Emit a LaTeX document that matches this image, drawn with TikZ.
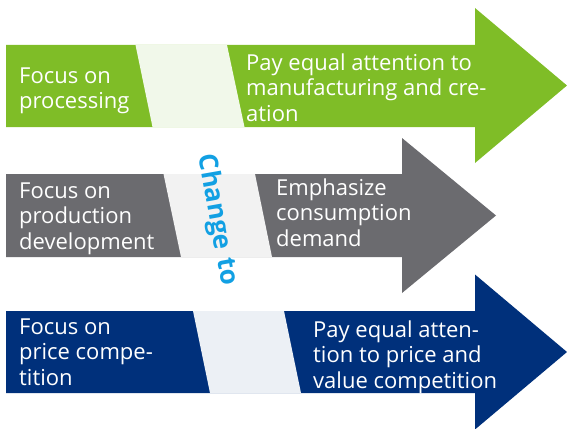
\documentclass[tikz,border=0pt]{standalone}
\usepackage{fontspec}
\setmainfont{Open Sans}
\definecolor{cgreen}{HTML}{7FBD27}
\definecolor{cgray}{HTML}{6B6B6F}
\definecolor{cnavy}{HTML}{00307B}
\definecolor{ccyan}{HTML}{12A0E3}
\definecolor{sgreen}{HTML}{F1F8EA}
\definecolor{sgray}{HTML}{F2F2F2}
\definecolor{snavy}{HTML}{ECF0F5}
\begin{document}
\begin{tikzpicture}[x=1pt,y=-1pt,
  lbl/.style={anchor=north west,inner sep=0pt,align=left,text=white,
    font=\fontsize{22}{25.5}\selectfont}]
\useasboundingbox (0,0) rectangle (567,428);
% green arrow
\fill[cgreen] (6,45) -- (475,45) -- (475,8) -- (567,85.5) -- (475,163) -- (475,127) -- (6,127) -- cycle;
\fill[sgreen] (135.5,45) -- (227,45) -- (244.5,127) -- (152.5,127) -- cycle;
% gray arrow
\fill[cgray] (6,174) -- (402,174) -- (402,138) -- (496,215.5) -- (402,293) -- (402,257) -- (6,257) -- cycle;
\fill[sgray] (163.5,174) -- (255,174) -- (272,257) -- (181,257) -- cycle;
% navy arrow
\fill[cnavy] (6,311) -- (475,311) -- (475,274.5) -- (567,352) -- (475,429.5) -- (475,393) -- (6,393) -- cycle;
\fill[snavy] (193,311) -- (284,311) -- (301,393) -- (210,393) -- cycle;
% texts
\node[lbl] (g1) at (19,65.15) {\strut Focus on\\processing};
\node[lbl] (g2) at (246,52.15) {\strut Pay equal attention to\\manufacturing and cre-\\ation};
\node[lbl] (r1) at (19,180.15) {\strut Focus on\\production\\development};
\node[lbl] (r2) at (276,177.15) {\strut Emphasize\\consumption\\demand};
\node[lbl] (b1) at (19,316.15) {\strut Focus on\\price compe-\\tition};
\node[lbl] (b2) at (313,319.15) {\strut Pay equal atten-\\tion to price and\\value competition};
\node[rotate=-80,inner sep=0pt,text=ccyan,font=\fontsize{26}{26}\selectfont\bfseries] (chg) at (217,220) {Change\hspace{9pt}to};
\end{tikzpicture}
\end{document}
